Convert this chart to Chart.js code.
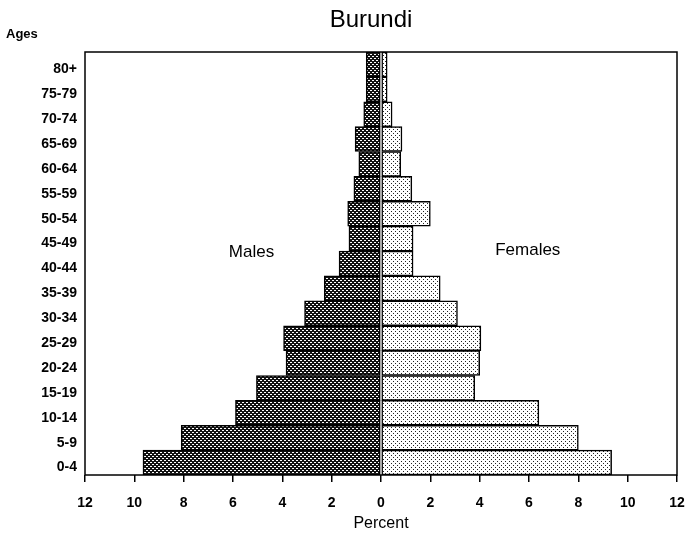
<!DOCTYPE html>
<html>
<head>
<meta charset="utf-8">
<script src="https://cdn.jsdelivr.net/npm/chart.js@4/dist/chart.umd.min.js"></script>
<style>
	html, body { margin: 0; padding: 0; background: #fff; }
	#wrap { width: 686px; height: 537px; }
</style>
</head>
<body>
<div id="wrap"><canvas id="myChart"></canvas></div>
<script>
// age groups, bottom to top
const ageGroups = ["0-4", "5-9", "10-14", "15-19", "20-24", "25-29", "30-34", "35-39",
	"40-44", "45-49", "50-54", "55-59", "60-64", "65-69", "70-74", "75-79", "80+"];
const malePercent = [9.65, 8.1, 5.9, 5.05, 3.85, 3.95, 3.1, 2.3, 1.7, 1.3, 1.35, 1.1, 0.9, 1.05, 0.7, 0.6, 0.6];
const femalePercent = [9.35, 8.0, 6.4, 3.8, 4.0, 4.05, 3.1, 2.4, 1.3, 1.3, 2.0, 1.25, 0.8, 0.85, 0.45, 0.25, 0.25];
const xTicks = [-12, -10, -8, -6, -4, -2, 0, 2, 4, 6, 8, 10, 12];

function makePattern(bg, fg, dots, size) {
	const c = document.createElement("canvas");
	c.width = size;
	c.height = size;
	const g = c.getContext("2d");
	g.fillStyle = bg;
	g.fillRect(0, 0, size, size);
	g.fillStyle = fg;
	dots.forEach(d => g.fillRect(d[0], d[1], 1, 1));
	return g.createPattern(c, "repeat");
}

const ctx = document.getElementById("myChart").getContext("2d");
const maleFill = makePattern("#111", "#fff", [[0, 0], [1, 0], [2, 2], [3, 2]], 4);
const femaleFill = makePattern("#fff", "#222", [[1, 1], [3, 3]], 4);

const font = "'Liberation Sans', Arial, sans-serif";

const extras = {
	id: "extras",
	afterDraw(chart) {
		const { ctx, chartArea: a, scales } = chart;
		ctx.save();
		ctx.strokeStyle = "#000";
		ctx.lineWidth = 1.5;
		ctx.strokeRect(a.left, a.top, a.right - a.left, a.bottom - a.top);

		ctx.fillStyle = "#000";
		ctx.textAlign = "center";
		ctx.textBaseline = "middle";
		ctx.font = "24px " + font;
		ctx.fillText("Burundi", (a.left + a.right) / 2 - 10, 20);

		ctx.font = "bold 13px " + font;
		ctx.textAlign = "left";
		ctx.fillText("Ages", 6, 34);

		ctx.font = "17px " + font;
		ctx.textAlign = "center";
		const yMid = scales.y.getPixelForValue(8.5);
		ctx.fillText("Males", scales.x.getPixelForValue(-5.25), yMid + 1);
		ctx.fillText("Females", scales.x.getPixelForValue(5.95), yMid - 1);
		ctx.restore();
	}
};

new Chart(ctx, {
	type: "bar",
	data: {
		labels: ageGroups,
		datasets: [
			{
				label: "Males",
				data: malePercent.map(v => -v),
				backgroundColor: maleFill,
				borderColor: "#000",
				borderWidth: 1.5,
			},
			{
				label: "Females",
				data: femalePercent,
				backgroundColor: femaleFill,
				borderColor: "#000",
				borderWidth: 1.5,
			},
		],
	},
	options: {
		indexAxis: "y",
		responsive: true,
		maintainAspectRatio: false,
		animation: false,
		datasets: {
			bar: {
				barPercentage: 1,
				categoryPercentage: 1,
				borderSkipped: false,
			},
		},
		layout: {
			padding: { top: 52, right: 9, left: 0, bottom: 0 },
		},
		scales: {
			x: {
				stacked: true,
				min: -12,
				max: 12,
				afterBuildTicks: scale => {
					scale.ticks = xTicks.map(v => ({ value: v }));
				},
				afterFit: scale => {
					scale.height = 62;
					scale.paddingLeft = 0;
					scale.paddingRight = 0;
				},
				border: { display: false },
				grid: {
					drawOnChartArea: false,
					drawTicks: true,
					tickLength: 7,
					color: "#000",
					lineWidth: 1.5,
				},
				ticks: {
					color: "#000",
					padding: 13,
					font: { family: font, size: 14, weight: "bold" },
					callback: v => Math.abs(v),
					maxRotation: 0,
				},
				title: {
					display: true,
					text: "Percent",
					color: "#000",
					font: { family: font, size: 16 },
					padding: { top: 0, bottom: 4 },
				},
			},
			y: {
				stacked: true,
				reverse: true,
				afterFit: scale => {
					scale.width = 85;
					scale.paddingTop = 0;
					scale.paddingBottom = 0;
				},
				border: { display: false },
				grid: { display: false, drawTicks: false },
				ticks: {
					color: "#000",
					padding: 8,
					labelOffset: 5,
					autoSkip: false,
					font: { family: font, size: 14, weight: "bold" },
				},
			},
		},
		plugins: {
			legend: { display: false },
			tooltip: { enabled: false },
		},
	},
	plugins: [extras],
});
</script>
</body>
</html>
